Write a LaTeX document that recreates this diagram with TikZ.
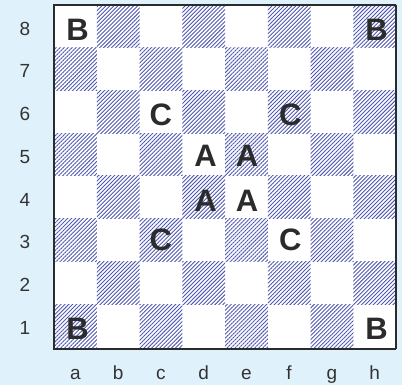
\documentclass[tikz,border=0pt]{standalone}
\usepackage{fontspec}
\setmainfont{Liberation Sans}
\usetikzlibrary{patterns.meta}
\definecolor{bgblue}{HTML}{DFF1FB}
\definecolor{hatchc}{HTML}{5058B0}
\definecolor{framec}{HTML}{2B2B2B}
\definecolor{labelc}{HTML}{333333}
\begin{document}
\begin{tikzpicture}[x=1pt,y=-1pt,
  piece/.style={font=\fontsize{31}{31}\selectfont\bfseries, text=framec, inner sep=0pt, anchor=base},
  boardlabel/.style={font=\fontsize{19}{19}\selectfont, text=labelc, inner sep=0pt, anchor=base},
  darksq/.style={pattern={Lines[angle=45,distance=2.8pt,line width=0.9pt]}, pattern color=hatchc}]
\fill[bgblue] (0,0) rectangle (402,385);
\useasboundingbox (0,0) rectangle (402,385);
\fill[white] (54,5) rectangle (396,349);
\foreach \i in {0,...,7} {
  \foreach \j in {0,...,7} {
    \pgfmathtruncatemacro\pp{mod(\i+\j,2)}
    \ifnum\pp=0
      \path[darksq] ({54+\i*42.75},{5+(7-\j)*42.75}) rectangle +(42.75,42.75);
    \fi
  }
}
\draw[framec, line width=1.2pt] (396,5) -- (396,349);
\draw[framec, line width=2pt] (396,5) -- (54,5) -- (54,349) -- (396,349);
% rank labels
\foreach \r in {1,...,8} {
  \node[boardlabel] (rank\r) at (25,{5+(8-\r)*42.75+21.375+8.8}) {\r};
}
% file labels
\foreach \f [count=\k from 0] in {a,b,c,d,e,f,g,h} {
  \node[boardlabel] (file\f) at ({54+\k*42.75+21.375},379.5) {\f};
}
% pieces
\node[piece] (Ba8) at (77.5,41) {B};
\node[piece] (Bh8) at (376.5,40.5) {B};
\node[piece] (Ba1) at (77.5,339) {B};
\node[piece] (Bh1) at (376.5,339) {B};
\node[piece] (Cc6) at (160.8,125.5) {C};
\node[piece] (Cf6) at (290.3,125.5) {C};
\node[piece] (Cc3) at (160.8,250.5) {C};
\node[piece] (Cf3) at (290.3,250.5) {C};
\node[piece] (Ad5) at (205.5,167) {A};
\node[piece] (Ae5) at (247,167) {A};
\node[piece] (Ad4) at (205.5,211.5) {A};
\node[piece] (Ae4) at (247,211.5) {A};
\end{tikzpicture}
\end{document}
